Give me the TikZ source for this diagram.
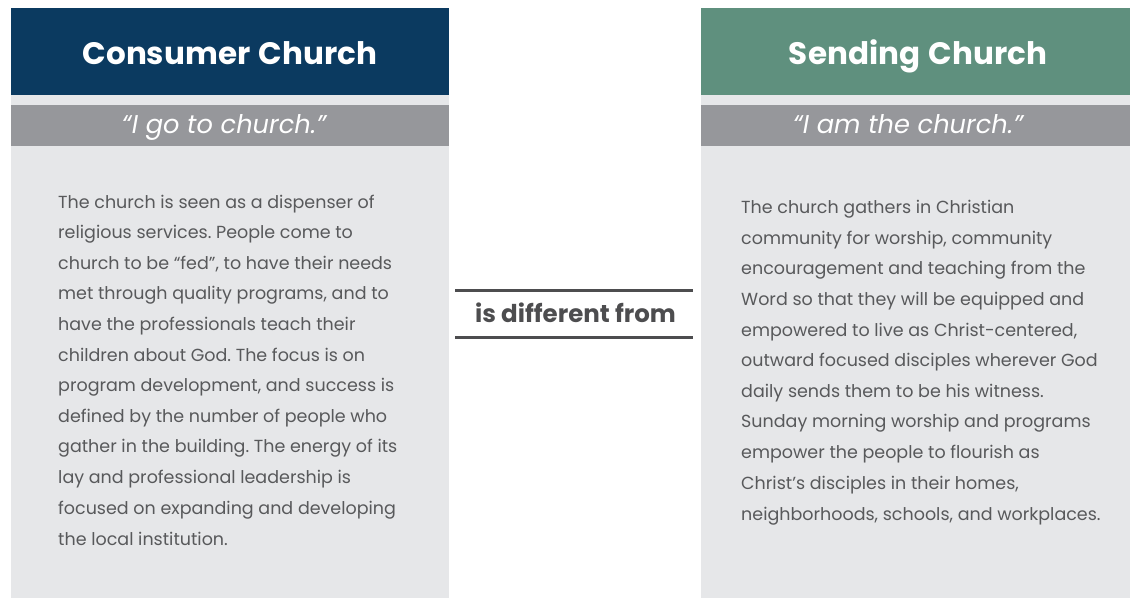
\documentclass[tikz,border=0pt]{standalone}
\usepackage{fontspec}
\setmainfont{Poppins}
\frenchspacing
\definecolor{navy}{HTML}{0B3A60}
\definecolor{sage}{HTML}{5F907E}
\definecolor{quotegray}{HTML}{96979B}
\definecolor{panelbg}{HTML}{E6E7E9}
\definecolor{bodytext}{HTML}{58595B}
\definecolor{rulegray}{HTML}{4D4D4F}
\tikzset{
  bodyline/.style={anchor=base west, inner sep=0pt, text=bodytext, font=\fontsize{17.5}{21}\selectfont},
  headtext/.style={anchor=base, text=white, inner sep=0pt, font=\fontsize{31}{36}\selectfont\bfseries},
  quotetext/.style={anchor=base, text=white, inner sep=0pt, font=\fontsize{25.7}{30}\selectfont\itshape},
  midtext/.style={anchor=base, text=rulegray, inner sep=0pt, font=\fontsize{24.5}{28}\selectfont\bfseries},
  midrule/.style={draw=rulegray, line width=3pt}
}
\begin{document}
\begin{tikzpicture}[x=1pt,y=-1pt]
\useasboundingbox (0,0) rectangle (1130,598);
\fill[white] (0,0) rectangle (1130,598);
% left panel
\fill[panelbg] (11,95) rectangle (449,598);
\fill[navy] (11,8) rectangle (449,95);
\fill[quotegray] (11,105) rectangle (449,146);
% right panel
\fill[panelbg] (701,95) rectangle (1130,598);
\fill[sage] (701,8) rectangle (1130,95);
\fill[quotegray] (701,105) rectangle (1130,146);

\node[headtext] (lhead) at (230,64) {Consumer\hspace{2pt} Church};
\node[headtext] (rhead) at (918,64) {Sending\hspace{2pt} Church};
\node[quotetext] (lquote) at (224,133) {“I go to church.”};
\node[quotetext] (rquote) at (908,133) {“I am the church.”};

% middle
\coordinate (ma) at (455,290);
\coordinate (mb) at (693,290);
\coordinate (mc) at (455,337);
\coordinate (md) at (693,337);
\draw[midrule] (ma) -- (mb);
\draw[midrule] (mc) -- (md);
\node[midtext] (mid) at (575.5,322) {is different from};

% left body
\node[bodyline] (l1) at (58,208) {The church is seen as a dispenser of};
\node[bodyline] (l2) at (58,238.5) {religious services. People come to};
\node[bodyline] (l3) at (58,269) {church to be “fed”, to have their needs};
\node[bodyline] (l4) at (58,299.5) {met through quality programs, and to};
\node[bodyline] (l5) at (58,330) {have the professionals teach their};
\node[bodyline] (l6) at (58,361) {children about God. The focus is on};
\node[bodyline] (l7) at (58,391.5) {program development, and success is};
\node[bodyline] (l8) at (58,422) {defined by the number of people who};
\node[bodyline] (l9) at (58,452.5) {gather in the building. The energy of its};
\node[bodyline] (l10) at (58,483) {lay and professional leadership is};
\node[bodyline] (l11) at (58,514) {focused on expanding and developing};
\node[bodyline] (l12) at (58,545) {the local institution.};

% right body
\node[bodyline] (r1) at (741,213) {The church gathers in Christian};
\node[bodyline] (r2) at (741,244) {community for worship, community};
\node[bodyline] (r3) at (741,274.5) {encouragement and teaching from the};
\node[bodyline] (r4) at (741,305) {Word so that they will be equipped and};
\node[bodyline] (r5) at (741,336) {empowered to live as Christ-centered,};
\node[bodyline] (r6) at (741,366.5) {outward focused disciples wherever God};
\node[bodyline] (r7) at (741,397) {daily sends them to be his witness.};
\node[bodyline] (r8) at (741,427.5) {Sunday morning worship and programs};
\node[bodyline] (r9) at (741,458) {empower the people to flourish as};
\node[bodyline] (r10) at (741,489) {Christ’s disciples in their homes,};
\node[bodyline] (r11) at (741,520) {neighborhoods, schools, and workplaces.};
\end{tikzpicture}
\end{document}
